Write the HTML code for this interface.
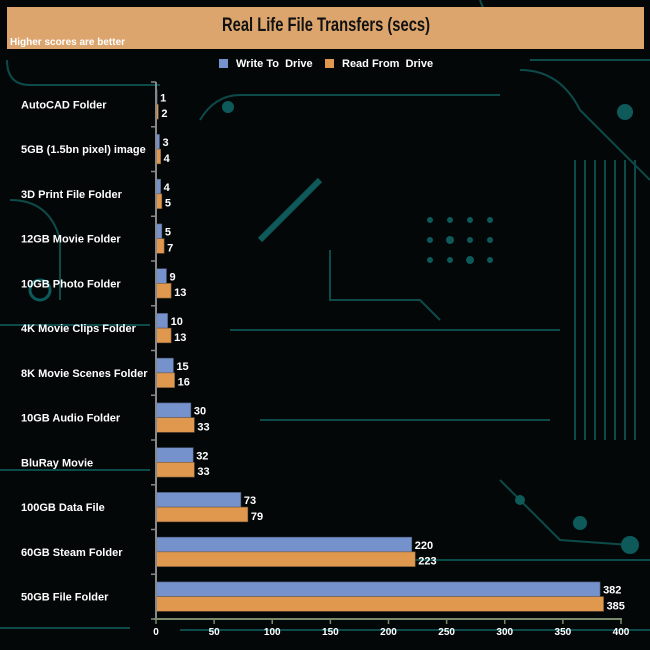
<!DOCTYPE html>
<html><head><meta charset="utf-8"><style>
html,body{margin:0;padding:0;background:#040707;}
svg{display:block;font-family:"Liberation Sans",Arial,sans-serif;}
</style></head><body>
<svg id="chart" width="650" height="650" viewBox="0 0 650 650">
<rect x="0" y="0" width="650" height="650" fill="#040707"/>
<g id="circuit" fill="none" stroke="#0d4a4a" stroke-width="2">
<path d="M7 60 Q7 85 30 85 L160 85"/>
<path d="M480 0 Q490 30 520 40"/>
<path d="M530 60 L650 60"/>
<path d="M200 120 Q215 95 240 95 L500 95"/>
<path d="M520 70 Q560 70 580 110 L650 180"/>
<path d="M575 160 L575 440 M585 160 L585 440 M595 160 L595 440 M605 160 L605 440 M615 160 L615 440 M625 160 L625 440 M635 160 L635 440"/>
<path d="M320 180 L260 240" stroke-width="6" stroke="#0e5a5a"/>
<path d="M330 250 L330 300 L420 300 L440 320"/>
<path d="M230 330 L560 330"/>
<path d="M260 420 L550 420"/>
<path d="M400 560 L650 560"/>
<path d="M500 480 L560 540 L630 545"/>
<path d="M0 325 L150 325 M0 470 L150 470 M0 628 L130 628"/>
<path d="M10 200 Q50 200 60 240 L60 300"/>
<path d="M180 630 L650 630"/>
</g>
<g fill="#0e5a5a">
<circle cx="228" cy="107" r="6"/><circle cx="625" cy="112" r="8"/><circle cx="630" cy="545" r="9"/>
<circle cx="580" cy="523" r="7"/><circle cx="520" cy="500" r="5"/><circle cx="40" cy="290" r="10" fill="none" stroke="#0e5a5a" stroke-width="3"/>
<circle cx="430" cy="220" r="3"/><circle cx="450" cy="220" r="3"/><circle cx="470" cy="220" r="3"/><circle cx="490" cy="220" r="3"/>
<circle cx="430" cy="240" r="3"/><circle cx="450" cy="240" r="4"/><circle cx="470" cy="240" r="3"/><circle cx="490" cy="240" r="3"/>
<circle cx="430" cy="260" r="3"/><circle cx="450" cy="260" r="3"/><circle cx="470" cy="260" r="4"/><circle cx="490" cy="260" r="3"/>
</g>
<rect x="7" y="7" width="637" height="42" fill="#dca56e"/>
<text x="326" y="31" text-anchor="middle" font-size="19" font-weight="bold" fill="#111" textLength="208" lengthAdjust="spacingAndGlyphs">Real Life File Transfers (secs)</text>
<text x="10" y="45" font-size="10" font-weight="bold" fill="#fff">Higher scores are better</text>
<rect x="219" y="59" width="9" height="9" fill="#7592cc"/>
<text x="236" y="67" font-size="11" font-weight="bold" fill="#fff">Write To&#160; Drive</text>
<rect x="325" y="59" width="9" height="9" fill="#e0974e"/>
<text x="342" y="67" font-size="11" font-weight="bold" fill="#fff">Read From&#160; Drive</text>
<g id="plot"></g>
</svg>
<script>
const categories = ["AutoCAD Folder","5GB (1.5bn pixel) image","3D Print File Folder","12GB Movie Folder","10GB Photo Folder","4K Movie Clips Folder","8K Movie Scenes Folder","10GB Audio Folder","BluRay Movie","100GB Data File","60GB Steam Folder","50GB File Folder"];
const writeValues = [1,3,4,5,9,10,15,30,32,73,220,382];
const readValues = [2,4,5,7,13,13,16,33,33,79,223,385];
const xTicks = [0,50,100,150,200,250,300,350,400];

const NS = "http://www.w3.org/2000/svg";
const X0 = 156, X1 = 621, XMAX = 400, YTOP = 82, YBOT = 619;
const band = (YBOT - YTOP) / categories.length;
const barH = 14.7;
function xScale(v){ return X0 + (X1 - X0) * v / XMAX; }
function yBand(i){ return YTOP + band * i; }
const plot = document.getElementById('plot');
function mk(tag, attrs){ const e = document.createElementNS(NS, tag); for (const k in attrs) e.setAttribute(k, attrs[k]); plot.appendChild(e); return e; }

categories.forEach((c, i) => {
  const top = yBand(i) + (band - 2*barH)/2;
  const lab = mk('text', {x:21, y:yBand(i)+band/2+4, 'font-size':11, 'font-weight':'bold', fill:'#fff'});
  lab.textContent = c;
  
  
  const wb = mk('rect', {x:xScale(0), y:top, width:Math.max(1,xScale(writeValues[i])-xScale(0)), height:barH, fill:'#7592cc', stroke:'#4a5a7a', 'stroke-width':0.6});
  
  
  const rb = mk('rect', {x:xScale(0), y:top+barH, width:Math.max(1,xScale(readValues[i])-xScale(0)), height:barH, fill:'#e0974e', stroke:'#7a5a3a', 'stroke-width':0.6});
  
  
  const wv = mk('text', {x:xScale(writeValues[i])+3, y:top+barH-3, 'font-size':11, 'font-weight':'bold', fill:'#fff'});
  wv.textContent = writeValues[i];
  
  
  const rv = mk('text', {x:xScale(readValues[i])+3, y:top+2*barH-2, 'font-size':11, 'font-weight':'bold', fill:'#fff'});
  rv.textContent = readValues[i];
  
  
});
for (let i = 0; i <= categories.length; i++) {
  const t = mk('line', {x1:X0-5, x2:X0, y1:yBand(i), y2:yBand(i), stroke:'#888', 'stroke-width':1.5});
  
  
}
const ya = mk('line', {x1:X0, x2:X0, y1:YTOP, y2:YBOT, stroke:'#888', 'stroke-width':2});


const xa = mk('line', {x1:X0-2, x2:X1+1, y1:YBOT, y2:YBOT, stroke:'#7a8a6a', 'stroke-width':2});


xTicks.forEach(v => {
  const t = mk('line', {x1:xScale(v), x2:xScale(v), y1:YBOT, y2:YBOT+5, stroke:'#7a8a6a', 'stroke-width':1.5});
  
  
  const l = mk('text', {x:xScale(v), y:YBOT+16, 'font-size':10, 'font-weight':'bold', fill:'#fff', 'text-anchor':'middle'});
  l.textContent = v;
  
  
});
</script>
</body></html>
